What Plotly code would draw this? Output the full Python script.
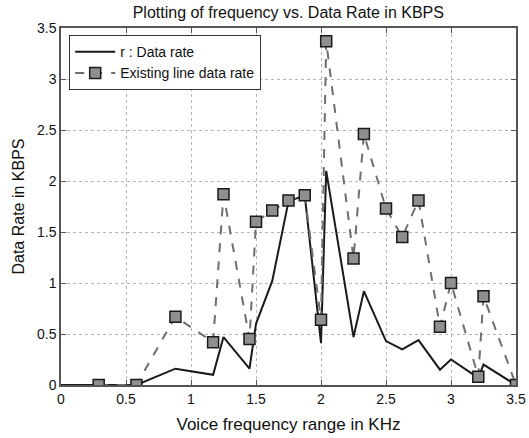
import plotly.graph_objects as go

# Data rate curve r (KBPS) over voice frequency (KHz)
freq_r = [0.0, 0.29, 0.58, 0.88, 1.17, 1.25, 1.45, 1.5, 1.625, 1.75, 1.875,
          2.0, 2.04, 2.25, 2.33, 2.5, 2.625, 2.75, 2.915, 3.0, 3.21, 3.25, 3.5]
rate_r = [0.0, 0.0, 0.0, 0.16, 0.1, 0.47, 0.16, 0.6, 1.02, 1.8, 1.86,
          0.41, 2.1, 0.47, 0.92, 0.43, 0.35, 0.44, 0.15, 0.25, 0.07, 0.2, 0.0]

# Existing line data rate samples
freq_ex = [0.29, 0.58, 0.88, 1.17, 1.25, 1.45, 1.5, 1.625, 1.75, 1.875,
           2.0, 2.04, 2.25, 2.33, 2.5, 2.625, 2.75, 2.915, 3.0, 3.21, 3.25, 3.5]
rate_ex = [0.0, 0.0, 0.67, 0.42, 1.87, 0.45, 1.6, 1.71, 1.81, 1.86,
           0.64, 3.37, 1.24, 2.46, 1.73, 1.45, 1.81, 0.57, 1.0, 0.08, 0.87, 0.0]

x_ticks = [0, 0.5, 1, 1.5, 2, 2.5, 3, 3.5]
y_ticks = [0, 0.5, 1, 1.5, 2, 2.5, 3, 3.5]

font = "Liberation Sans, Arial, sans-serif"

fig = go.Figure()
fig.add_trace(go.Scatter(
    x=freq_r, y=rate_r, mode="lines", name="r : Data rate",
    line=dict(color="#1a1a1a", width=2),
))
fig.add_trace(go.Scatter(
    x=freq_ex, y=rate_ex, mode="lines+markers", name="Existing line data rate",
    line=dict(color="#6e6e6e", width=2, dash="dash"),
    marker=dict(symbol="square", size=11, color="#8f8f8f",
                line=dict(color="#1a1a1a", width=1.5)),
))

axis_common = dict(
    showline=True, linecolor="#555555", linewidth=1.5, mirror="ticks",
    ticks="inside", ticklen=5, tickcolor="#555555",
    showgrid=True, gridcolor="#b5b5b5", griddash="dot", gridwidth=1,
    zeroline=False, automargin=False,
    tickfont=dict(family=font, size=14, color="#111111"),
)

fig.update_layout(
    width=529, height=438,
    margin=dict(l=61, r=13, t=28, b=53),
    paper_bgcolor="white", plot_bgcolor="white",
    title=dict(text="Plotting of frequency vs. Data Rate in KBPS",
               x=0.545, xanchor="center", y=0.972, yanchor="middle",
               font=dict(family=font, size=16, color="#111111")),
    xaxis=dict(range=[0, 3.5], tickvals=x_ticks, ticktext=[f"{v:g}" for v in x_ticks],
               title=dict(text="Voice frequency range in KHz", standoff=13,
                          font=dict(family=font, size=17, color="#111111")),
               **axis_common),
    yaxis=dict(range=[0, 3.5], tickvals=y_ticks, ticktext=[f"{v:g}" for v in y_ticks],
               title=dict(text="Data Rate in KBPS", standoff=8,
                          font=dict(family=font, size=16, color="#111111")),
               **axis_common),
    legend=dict(x=0.018, y=0.98, xanchor="left", yanchor="top",
                bgcolor="white", bordercolor="#333333", borderwidth=1,
                font=dict(family=font, size=14, color="#111111"),
                tracegroupgap=0, itemwidth=40),
    showlegend=True,
)

fig.write_html("out.html")
